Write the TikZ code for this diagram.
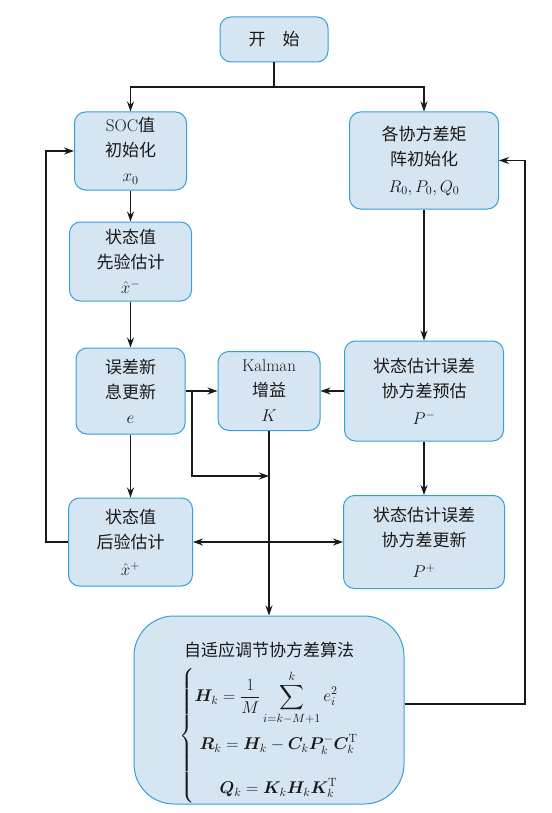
\RequirePackage{fix-cm}
\documentclass[tikz,border=0pt]{standalone}
\usepackage{amsmath}
\usepackage{fontspec}
\usepackage{bm}
\newfontfamily\cjk{Noto Sans CJK SC}
\usetikzlibrary{arrows.meta}
\definecolor{boxfill}{RGB}{214,229,242}
\definecolor{boxline}{RGB}{52,160,218}

\begin{document}
\begin{tikzpicture}[
  x=1pt, y=-1pt,
  box/.style={draw=boxline, fill=boxfill, line width=1pt, rounded corners=11pt,
    align=center, inner sep=0pt, font=\fontsize{17}{25}\selectfont, text=black!90},
  link/.style={line width=1.1pt, draw=black!90},
  flow/.style={link, -{Stealth[length=10pt,width=7pt]}},
  both/.style={link, {Stealth[length=10pt,width=7pt]}-{Stealth[length=10pt,width=7pt]}},
]
\useasboundingbox (0,0) rectangle (551,813);

% Left column
\node[box, minimum width=108pt, minimum height=45pt] (start) at (274,39.5) {\cjk 开\quad 始};
\node[box, minimum width=112pt, minimum height=78pt] (soc) at (130.5,151)
  {SOC{\cjk 值}\\{\cjk 初始化}\\$x_0$};
\node[box, minimum width=122pt, minimum height=79pt] (prior) at (130.5,261.5)
  {{\cjk 状态值}\\{\cjk 先验估计}\\$\hat{x}^{-}$};
\node[box, minimum width=109pt, minimum height=86pt] (innov) at (130.5,391)
  {{\cjk 误差新}\\{\cjk 息更新}\\$e$};
\node[box, minimum width=124pt, minimum height=88pt] (post) at (130.5,542)
  {{\cjk 状态值}\\{\cjk 后验估计}\\[2pt]$\hat{x}^{+}$};

% Middle
\node[box, minimum width=102pt, minimum height=79pt] (kalman) at (269,391)
  {Kalman\\{\cjk 增益}\\$K$};

% Right column
\node[box, minimum width=149pt, minimum height=97pt] (covinit) at (424,160.5)
  {{\cjk 各协方差矩}\\{\cjk 阵初始化}\\[2pt]$R_0,P_0,Q_0$};
\node[box, minimum width=159pt, minimum height=100pt] (pminus) at (424,391)
  {{\cjk 状态估计误差}\\{\cjk 协方差预估}\\[2pt]$P^{-}$};
\node[box, minimum width=161pt, minimum height=93pt] (pplus) at (424,542)
  {{\cjk 状态估计误差}\\{\cjk 协方差更新}\\[6pt]$P^{+}$};

% Adaptive covariance
\node[box, rounded corners=40pt, minimum width=270pt, minimum height=188pt] (adapt) at (269,710)
  {\rule{0pt}{40pt}{\cjk 自适应调节协方差算法}\\[9pt]
   $\left\{\begin{array}{@{}l@{}}
     \displaystyle\bm{H}_k=\frac{1}{M}\sum_{i=k-M+1}^{k}e_i^2\\
     \noalign{\vskip 7pt}
     \hspace{5pt}\displaystyle\bm{R}_k=\bm{H}_k-\bm{C}_k\bm{P}_k^{-}\bm{C}_k^{\mathrm{T}}\\[19pt]
     \hspace{25pt}\displaystyle\bm{Q}_k=\bm{K}_k\bm{H}_k\bm{K}_k^{\mathrm{T}}
   \end{array}\right.$\hspace{40pt}};

% Connectors
\coordinate (split) at (274,87);
\draw[link] (start) -- (split);
\draw[flow] (split) -| (soc);
\draw[flow] (split) -| (covinit);
\draw[flow] (soc) -- (prior);
\draw[flow] (prior) -- (innov);
\draw[flow] (innov) -- (post);
\draw[flow] (innov) -- (kalman);
\draw[flow] (pminus) -- (kalman);
\draw[flow] (covinit) -- (pminus);
\draw[flow] (pminus) -- (pplus);
\draw[both] (post) -- (pplus);
\draw[flow] (kalman) -- (adapt);

\coordinate (branch) at (192,391);
\coordinate (tap) at (269,476);
\draw[flow] (branch) |- (tap);

\draw[flow] (post.west) -- ++(-22,0) |- (soc.west);

\coordinate (back) at (525,704);
\draw[flow] (adapt.east |- back) -- (back) |- (covinit.east);

\end{tikzpicture}
\end{document}
